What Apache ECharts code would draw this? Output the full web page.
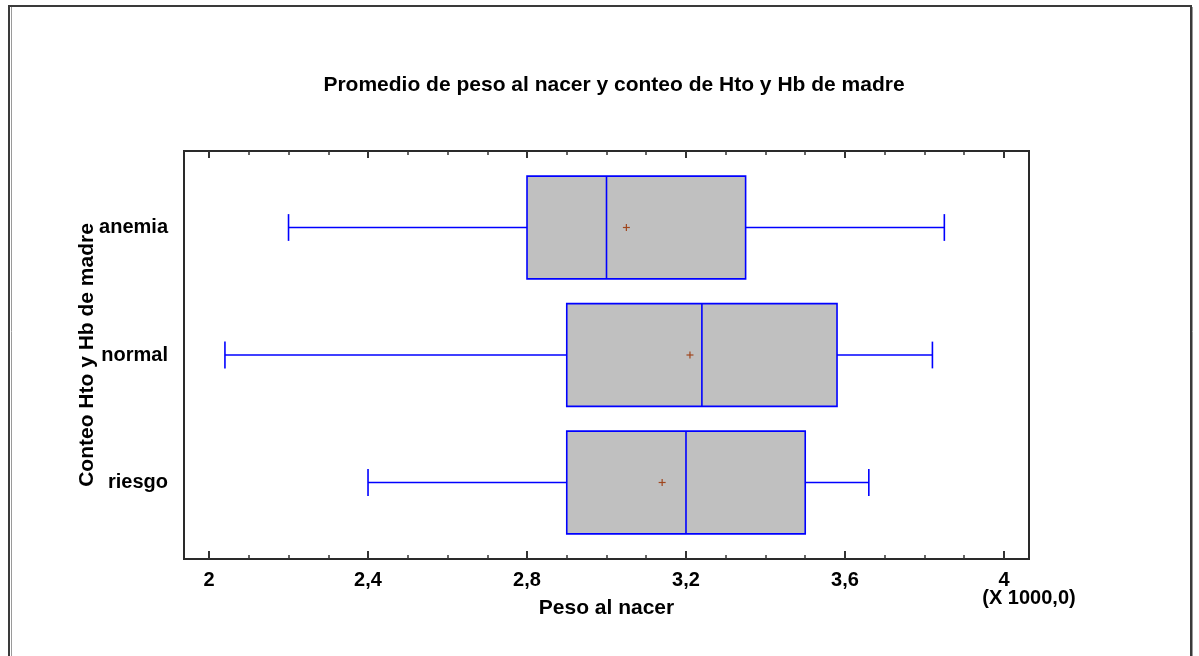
<!DOCTYPE html>
<html><head><meta charset="utf-8">
<script src="https://cdn.jsdelivr.net/npm/echarts@6/dist/echarts.min.js"></script>
<style>html,body{margin:0;padding:0;background:#fff}#c{width:1199px;height:656px}</style>
</head><body><div id="c"></div>
<script>
// ---- data (grams) ----
const categories = ['anemia', 'normal', 'riesgo'];
const whiskerMin = [2200, 2040, 2400];
const q1 = [2800, 2900, 2900];
const median = [3000, 3240, 3200];
const q3 = [3350, 3580, 3500];
const whiskerMax = [3850, 3820, 3660];
const mean = [3050, 3210, 3140];
const majorTicks = [2000, 2400, 2800, 3200, 3600, 4000];
const minorTicks = [2100, 2200, 2300, 2500, 2600, 2700, 2900, 3000, 3100, 3300, 3400, 3500, 3700, 3800, 3900];

const FONT = "'Liberation Sans', Arial, sans-serif";
const X_MIN = 1937, X_MAX = 4063;
const tickColor = '#333';

const seriesData = categories.map((name, i) => [categories.length - i, whiskerMin[i], q1[i], median[i], q3[i], whiskerMax[i], mean[i]]);

function renderItem(params, api) {
  const y = api.value(0);
  const band = api.size([0, 1])[1];
  const boxH = band * 0.806, capH = band * 0.21;
  const c = v => api.coord([v, y]);
  const pMin = c(api.value(1)), pQ1 = c(api.value(2)), pMed = c(api.value(3)),
        pQ3 = c(api.value(4)), pMax = c(api.value(5)), pMean = c(api.value(6));
  const cy = pQ1[1];
  const blue = '#0000FF';
  const thin = {stroke: blue, lineWidth: 1.6};
  const thick = {stroke: blue, lineWidth: 1.6};
  const mc = '#A0461E';
  return {type: 'group', children: [
    {type: 'line', shape: {x1: pMin[0], y1: cy, x2: pQ1[0], y2: cy}, style: thin},
    {type: 'line', shape: {x1: pQ3[0], y1: cy, x2: pMax[0], y2: cy}, style: thin},
    {type: 'line', shape: {x1: pMin[0], y1: cy - capH / 2, x2: pMin[0], y2: cy + capH / 2}, style: thick},
    {type: 'line', shape: {x1: pMax[0], y1: cy - capH / 2, x2: pMax[0], y2: cy + capH / 2}, style: thick},
    {type: 'rect', shape: {x: pQ1[0], y: cy - boxH / 2, width: pQ3[0] - pQ1[0], height: boxH},
      style: {fill: '#C0C0C0', stroke: blue, lineWidth: 1.6}},
    {type: 'line', shape: {x1: pMed[0], y1: cy - boxH / 2, x2: pMed[0], y2: cy + boxH / 2}, style: thick},
    {type: 'line', shape: {x1: pMean[0] - 3.5, y1: pMean[1], x2: pMean[0] + 3.5, y2: pMean[1]}, style: {stroke: mc, lineWidth: 1.2}},
    {type: 'line', shape: {x1: pMean[0], y1: pMean[1] - 3.5, x2: pMean[0], y2: pMean[1] + 3.5}, style: {stroke: mc, lineWidth: 1.2}}
  ]};
}

const labelStyle = {color: '#000', fontSize: 20, fontWeight: 'bold', fontFamily: FONT};
function xAxisDef(pos, ticks, len, width, withLabel) {
  const a = {
    type: 'value', min: X_MIN, max: X_MAX, position: pos,
    axisLine: {show: false}, splitLine: {show: false},
    axisTick: {show: true, inside: true, length: len, customValues: ticks, lineStyle: {color: tickColor, width: width}},
    axisLabel: {show: false}
  };
  if (withLabel) {
    a.axisLabel = Object.assign({show: true, customValues: majorTicks, margin: 11,
      formatter: v => String(v / 1000).replace('.', ',')}, labelStyle);
    a.name = 'Peso al nacer';
    a.nameLocation = 'middle';
    a.nameGap = 39;
    a.nameMoveOverlap = false;
    a.nameTextStyle = {color: '#000', fontSize: 21, fontWeight: 'bold', fontFamily: FONT};
  }
  return a;
}

const chart = echarts.init(document.getElementById('c'), null, {renderer: 'canvas'});
chart.setOption({
  animation: false,
  backgroundColor: '#fff',
  grid: {left: 184, right: 170, top: 151, bottom: 97, show: true, borderColor: '#2a2a2a', borderWidth: 2,
    backgroundColor: 'transparent', outerBoundsMode: 'none'},
  xAxis: [
    xAxisDef('bottom', majorTicks, 8, 2, true),
    xAxisDef('bottom', minorTicks, 4, 1.5, false),
    xAxisDef('top', majorTicks, 7, 2, false),
    xAxisDef('top', minorTicks, 4, 1.5, false)
  ],
  yAxis: {
    type: 'value', min: 0.4, max: 3.6,
    axisLine: {show: false}, axisTick: {show: false}, splitLine: {show: false},
    axisLabel: Object.assign({customValues: [1, 2, 3], margin: 16,
      formatter: v => categories[categories.length - Math.round(v)]}, labelStyle),
    name: 'Conteo Hto y Hb de madre', nameLocation: 'middle', nameGap: 86, nameRotate: 90,
    nameMoveOverlap: false,
    nameTextStyle: {color: '#000', fontSize: 21, fontWeight: 'bold', fontFamily: FONT}
  },
  series: [{
    type: 'custom', xAxisIndex: 0, yAxisIndex: 0,
    renderItem: renderItem,
    encode: {x: [1, 2, 3, 4, 5, 6], y: 0},
    data: seriesData
  }],
  graphic: [
    {type: 'rect', shape: {x: 9, y: 6, width: 1182, height: 720}, style: {fill: null, stroke: '#3a3a3a', lineWidth: 2}, silent: true},
    {type: 'line', shape: {x1: 11.5, y1: 7, x2: 11.5, y2: 656}, style: {stroke: '#9a9a9a', lineWidth: 1}, silent: true},
    {type: 'line', shape: {x1: 1192.5, y1: 7, x2: 1192.5, y2: 656}, style: {stroke: '#9a9a9a', lineWidth: 1}, silent: true},
    {type: 'text', x: 614, y: 85, style: {text: 'Promedio de peso al nacer y conteo de Hto y Hb de madre',
      textAlign: 'center', textVerticalAlign: 'middle', fill: '#000', font: "bold 21px 'Liberation Sans', Arial, sans-serif"}},
    {type: 'text', x: 1029, y: 598, style: {text: '(X 1000,0)', textAlign: 'center', textVerticalAlign: 'middle',
      fill: '#000', font: "bold 20px 'Liberation Sans', Arial, sans-serif"}}
  ]
});
</script>
</body></html>
